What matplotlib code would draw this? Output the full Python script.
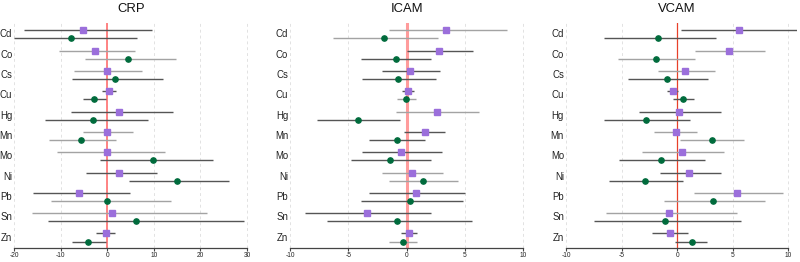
import matplotlib
matplotlib.use("Agg")
import matplotlib.pyplot as plt

plt.rcParams['font.family'] = ['Liberation Sans', 'DejaVu Sans']
plt.rcParams['axes.unicode_minus'] = False

metals = ["Cd", "Co", "Cs", "Cu", "Hg", "Mn", "Mo", "Ni", "Pb", "Sn", "Zn"]
panels = ["CRP", "ICAM", "VCAM"]

# CRP
crp_p_est = [-5.3, -2.6, -0.1, 0.3, 2.5, -0.1, -0.1, 2.6, -6.2, 0.9, -0.4]
crp_p_lo = [-18.0, -10.3, -7.2, -1.1, -7.8, -5.3, -10.9, -4.7, -16.0, -16.2, -2.5]
crp_p_hi = [9.5, 6.0, 7.5, 1.8, 14.2, 5.4, 12.3, 10.6, 4.8, 21.4, 1.7]
crp_g_est = [-7.8, 4.4, 1.6, -2.9, -3.0, -5.7, 9.9, 14.9, -0.1, 6.2, -4.1]
crp_g_lo = [-20.0, -4.9, -7.6, -5.2, -13.4, -12.5, -1.6, 4.7, -12.1, -12.7, -7.7]
crp_g_hi = [6.4, 14.7, 12.0, -0.4, 8.7, 1.8, 22.8, 26.2, 13.7, 29.4, -0.4]
crp_p_dark = [1, 0, 0, 1, 1, 0, 0, 1, 1, 0, 1]
crp_g_dark = [1, 0, 1, 1, 1, 0, 1, 1, 0, 1, 1]

# ICAM
icam_p_est = [3.4, 2.8, 0.3, 0.14, 2.6, 1.6, -0.5, 0.5, 0.8, -3.4, 0.2]
icam_p_lo = [-1.5, 0.06, -2.1, -0.4, -0.9, -0.2, -3.8, -2.1, -3.2, -8.7, -0.5]
icam_p_hi = [8.6, 5.7, 2.9, 0.6, 6.2, 3.3, 3.0, 3.1, 5.0, 2.1, 0.9]
icam_g_est = [-1.9, -0.9, -0.7, -0.03, -4.2, -0.8, -1.4, 1.4, 0.3, -0.8, -0.3]
icam_g_lo = [-6.3, -3.9, -3.8, -0.8, -7.7, -3.2, -4.8, -1.5, -3.9, -6.8, -1.5]
icam_g_hi = [2.7, 2.1, 2.5, 0.8, -0.6, 1.6, 2.1, 4.4, 4.8, 5.6, 0.9]
icam_p_dark = [0, 1, 1, 1, 0, 1, 1, 0, 1, 1, 1]
icam_g_dark = [0, 1, 1, 0, 1, 1, 1, 0, 1, 1, 0]

# VCAM
vcam_p_est = [5.6, 4.7, 0.7, -0.4, 0.2, -0.1, 0.4, 1.1, 5.35, -0.7, -0.65]
vcam_p_lo = [0.35, 1.6, -1.75, -0.9, -3.4, -2.05, -3.2, -1.5, 1.5, -6.4, -2.3]
vcam_p_hi = [11.5, 7.9, 3.4, 0.1, 3.9, 1.8, 4.2, 3.9, 9.5, 5.4, 0.95]
vcam_g_est = [-1.75, -1.9, -0.9, 0.5, -2.8, 3.1, -1.45, -2.9, 3.25, -1.1, 1.3]
vcam_g_lo = [-6.6, -5.3, -4.4, -0.4, -6.6, 0.3, -5.2, -6.1, -1.2, -7.45, -0.2]
vcam_g_hi = [3.5, 1.6, 2.8, 1.5, 1.2, 6.0, 2.5, 0.5, 7.9, 5.75, 2.7]
vcam_p_dark = [1, 0, 0, 1, 1, 0, 0, 1, 0, 0, 1]
vcam_g_dark = [1, 0, 1, 1, 1, 0, 1, 1, 0, 1, 1]

crp_ticks = [-20, -10, 0, 10, 20, 30]
cam_ticks = [-10, -5, 0, 5, 10]

data = {
    "CRP": (crp_p_est, crp_p_lo, crp_p_hi, crp_g_est, crp_g_lo, crp_g_hi, crp_p_dark, crp_g_dark, crp_ticks),
    "ICAM": (icam_p_est, icam_p_lo, icam_p_hi, icam_g_est, icam_g_lo, icam_g_hi, icam_p_dark, icam_g_dark, cam_ticks),
    "VCAM": (vcam_p_est, vcam_p_lo, vcam_p_hi, vcam_g_est, vcam_g_lo, vcam_g_hi, vcam_p_dark, vcam_g_dark, cam_ticks),
}

W, H = 800, 262
fig = plt.figure(figsize=(8, 2.62), dpi=100)

# pixel extents of each plot region
boxes = {"CRP": (5.0, 256.3), "ICAM": (280.7, 532.6), "VCAM": (557.1, 797.2)}
top_px, bot_px = 23.0, 247.7
ref_style = {"CRP": ('#ff7a7a', 1.3), "ICAM": ('#ff9c9c', 2.2), "VCAM": ('#e8402a', 0.9)}

dark_c, light_c = '#555555', '#a3a3a3'
purple, green = '#9b6fdb', '#006b3c'
n = len(metals)

for name in panels:
    pe, plo, phi, ge, glo, ghi, pd, gd, ticks = data[name]
    L, R = boxes[name]
    ax = fig.add_axes([L / W, (H - bot_px) / H, (R - L) / W, (bot_px - top_px) / H])
    span = ticks[-1] - ticks[0]
    ax.set_xlim(ticks[0] - 0.04 * span, ticks[-1] + 0.04 * span)
    ax.set_ylim(0.5, n + 0.56)
    for t in ticks:
        ax.axvline(t, color='#e2e2e2', lw=0.7, ls=(0, (3, 3)), zorder=0)
    rc, rlw = ref_style[name]
    ax.axvline(0, color=rc, lw=rlw, zorder=1)
    for i, m in enumerate(metals):
        yc = n - i
        yp, yg = yc + 0.2, yc - 0.2
        ax.plot([plo[i], phi[i]], [yp, yp], color=dark_c if pd[i] else light_c, lw=1.0, zorder=2,
                solid_capstyle='butt')
        ax.plot([glo[i], ghi[i]], [yg, yg], color=dark_c if gd[i] else light_c, lw=1.0, zorder=2,
                solid_capstyle='butt')
        ax.plot(pe[i], yp, marker='s', ms=4.0, color=purple, mec=purple, zorder=3)
        ax.plot(ge[i], yg, marker='o', ms=3.8, color=green, mec=green, zorder=3)
        ax.annotate(m, xy=(ticks[0], yc), xycoords='data', xytext=(-2.0, 0), textcoords='offset pixels',
                    ha='right', va='center', fontsize=6.9, color='#222222', annotation_clip=False)
    for s in ['top', 'right', 'left']:
        ax.spines[s].set_visible(False)
    ax.spines['bottom'].set_bounds(ticks[0], ticks[-1])
    ax.spines['bottom'].set_color('#444444')
    ax.spines['bottom'].set_linewidth(0.9)
    ax.set_yticks([])
    ax.set_xticks(ticks)
    ax.set_xticklabels([str(t) for t in ticks])
    ax.tick_params(axis='x', length=2.5, width=0.8, color='#444444', pad=0.6, labelsize=4.8, labelcolor='#222222')
    ax.set_title(name, fontsize=9.4, pad=8, color='#111111')
    ax.patch.set_alpha(0)

fig.savefig("out.png", dpi=100, facecolor='white')
